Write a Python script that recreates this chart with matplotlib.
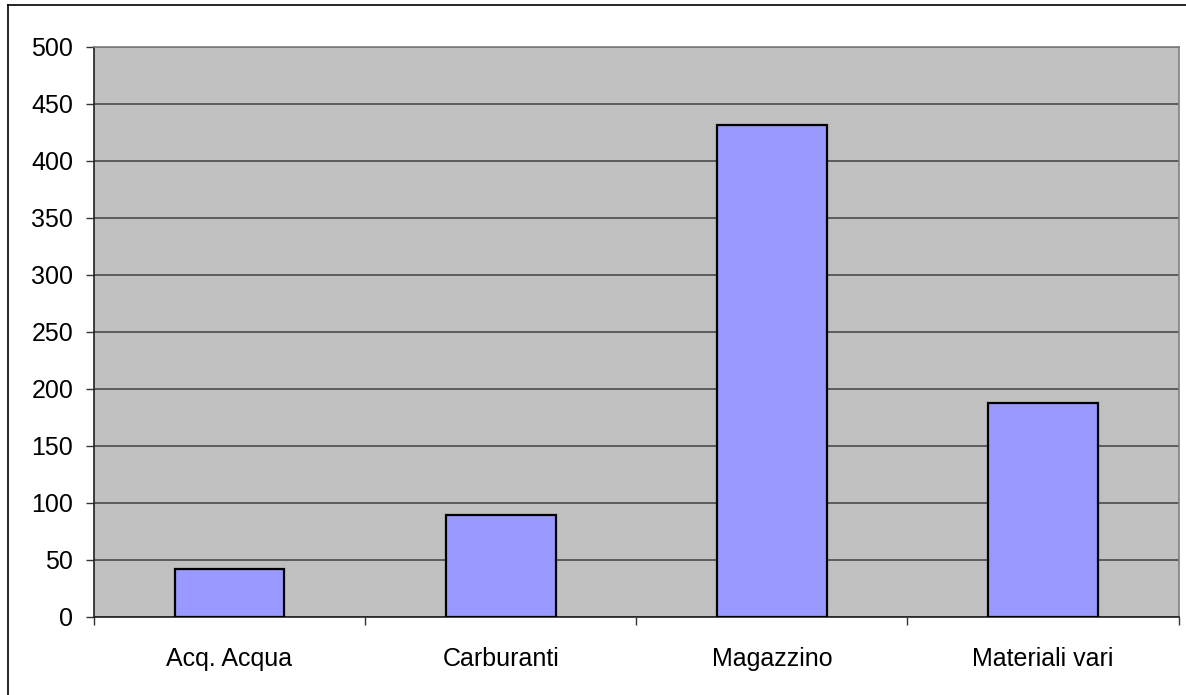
import matplotlib.pyplot as plt
from matplotlib.lines import Line2D

# Data
categories = ["Acq. Acqua", "Carburanti", "Magazzino", "Materiali vari"]
values = [42, 89, 431.5, 187.5]
y_ticks = [0, 50, 100, 150, 200, 250, 300, 350, 400, 450, 500]

plt.rcParams['font.family'] = ['Liberation Sans', 'DejaVu Sans']

W, H = 1186, 695
fig = plt.figure(figsize=(W / 100, H / 100), dpi=100)
fig.patch.set_facecolor("white")

# plot area in pixel coords
left, top, right, bottom = 94, 47, 1178.5, 616.7
ax = fig.add_axes([left / W, (H - bottom) / H, (right - left) / W, (bottom - top) / H])
ax.set_facecolor("#C0C0C0")

x = range(len(categories))
ax.bar(x, values, width=0.405, color="#9999FF", edgecolor="black", linewidth=1.6, zorder=3)

ax.set_xlim(-0.5, len(categories) - 0.5)
ax.set_ylim(0, 500)
ax.set_yticks(y_ticks)
ax.yaxis.grid(True, color="#4a4a4a", linewidth=1.2, zorder=1)
ax.set_axisbelow(True)

ax.set_xticks(list(x))
ax.set_xticklabels(categories)
ax.set_xticks([i - 0.5 for i in range(len(categories) + 1)], minor=True)
ax.tick_params(axis="x", which="major", length=0, pad=22, labelsize=18)
ax.tick_params(axis="x", which="minor", length=6, width=1, color="#333333")
ax.tick_params(axis="y", length=6, width=1, color="#333333", pad=9, labelsize=18)

for s in ["left", "bottom"]:
    ax.spines[s].set_color("#222222")
    ax.spines[s].set_linewidth(1.2)
for s in ["top", "right"]:
    ax.spines[s].set_color("#808080")
    ax.spines[s].set_linewidth(1.2)

# outer chart border
fig.add_artist(Line2D([8 / W, 8 / W], [0, 1 - 5 / H], color="black", linewidth=1.2))
fig.add_artist(Line2D([8 / W, 1], [1 - 5 / H, 1 - 5 / H], color="black", linewidth=1.2))

fig.savefig("out.png", dpi=100)
